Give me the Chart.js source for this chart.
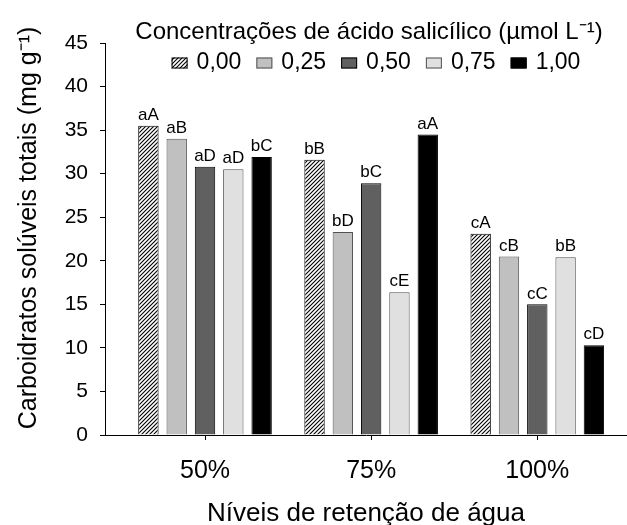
<!DOCTYPE html>
<html>
<head>
<meta charset="utf-8">
<title>Carboidratos solúveis totais</title>
<script src="https://cdn.jsdelivr.net/npm/chart.js@4"></script>
<style>
    html, body { margin: 0; padding: 0; background: #fff; }
</style>
</head>
<body>
<canvas id="chart" width="627" height="525"></canvas>
<script>
// Water retention levels (x categories) and salicylic acid doses (series)
const categories = ['50%', '75%', '100%'];
const concentrations = ['0,00', '0,25', '0,50', '0,75', '1,00'];

// Total soluble carbohydrates (mg g-1), one array per dose
const values000 = [35.5, 31.6, 23.1];
const values025 = [34.0, 23.3, 20.5];
const values050 = [30.8, 28.9, 15.0];
const values075 = [30.5, 16.4, 20.4];
const values100 = [31.9, 34.5, 10.3];

// Mean comparison letters above each bar
const letters000 = ['aA', 'bB', 'cA'];
const letters025 = ['aB', 'bD', 'cB'];
const letters050 = ['aD', 'bC', 'cC'];
const letters075 = ['aD', 'cE', 'bB'];
const letters100 = ['bC', 'aA', 'cD'];

const yTicks = [0, 5, 10, 15, 20, 25, 30, 35, 40, 45];

const FONT = '"Liberation Sans", Arial, sans-serif';
const Y_TITLE = 'Carboidratos solúveis totais (mg g⁻¹)';
const LEGEND_TITLE = 'Concentrações de ácido salicílico (µmol L⁻¹)';

// Diagonal hatch for the 0,00 dose
function makeHatch() {
    const size = 4;
    const c = document.createElement('canvas');
    c.width = size;
    c.height = size;
    const g = c.getContext('2d');
    g.fillStyle = '#fff';
    g.fillRect(0, 0, size, size);
    g.strokeStyle = '#000';
    g.lineWidth = 1.1;
    g.beginPath();
    g.moveTo(0, size); g.lineTo(size, 0);
    g.moveTo(-1, 1); g.lineTo(1, -1);
    g.moveTo(size - 1, size + 1); g.lineTo(size + 1, size - 1);
    g.stroke();
    return g.createPattern(c, 'repeat');
}

const hatch = makeHatch();

function series(label, values, letters, bg, border) {
    return {
        label: label,
        data: values.map((v, i) => ({ x: i + 1, y: v })),
        letters: letters,
        backgroundColor: bg,
        borderColor: border,
        borderWidth: 1,
        categoryPercentage: 0.852,
        barPercentage: 0.72
    };
}

// Letters drawn just above each bar
const barLetters = {
    id: 'barLetters',
    afterDatasetsDraw(chart) {
        const ctx = chart.ctx;
        ctx.save();
        ctx.font = '17px ' + FONT;
        ctx.fillStyle = '#000';
        ctx.textAlign = 'center';
        ctx.textBaseline = 'bottom';
        chart.data.datasets.forEach((ds, i) => {
            chart.getDatasetMeta(i).data.forEach((bar, j) => {
                ctx.fillText(ds.letters[j], bar.x, bar.y - 2);
            });
        });
        ctx.restore();
    }
};

// Rotated y-axis title, centred a little above the plot middle
const yTitle = {
    id: 'yTitle',
    afterDraw(chart) {
        const ctx = chart.ctx;
        ctx.save();
        ctx.translate(29, 228);
        ctx.rotate(-Math.PI / 2);
        ctx.font = '25px ' + FONT;
        ctx.fillStyle = '#000';
        ctx.textAlign = 'center';
        ctx.textBaseline = 'middle';
        ctx.fillText(Y_TITLE, 0, 0);
        ctx.restore();
    }
};

// Legend title and a single row of swatches sitting inside the plot
const legendRow = {
    id: 'legendRow',
    afterDraw(chart) {
        const ctx = chart.ctx;
        ctx.save();
        ctx.fillStyle = '#000';
        ctx.textBaseline = 'middle';
        ctx.textAlign = 'center';
        ctx.font = '24px ' + FONT;
        ctx.fillText(LEGEND_TITLE, 369, 32);

        ctx.font = '23px ' + FONT;
        ctx.textAlign = 'left';
        const boxW = 16, boxH = 11, gap = 9, spacing = 15;
        const items = chart.data.datasets.map(ds => ({
            ds: ds,
            w: boxW + gap + ctx.measureText(ds.label).width
        }));
        const total = items.reduce((s, it) => s + it.w, 0) + spacing * (items.length - 1);
        let x = 376 - total / 2;
        const y = 63;
        items.forEach(it => {
            ctx.fillStyle = it.ds.backgroundColor;
            ctx.fillRect(x, y - boxH / 2, boxW, boxH);
            ctx.strokeStyle = it.ds.borderColor;
            ctx.lineWidth = 1;
            ctx.strokeRect(x + 0.5, y - boxH / 2 + 0.5, boxW - 1, boxH - 1);
            ctx.fillStyle = '#000';
            ctx.fillText(it.ds.label, x + boxW + gap, y);
            x += it.w + spacing;
        });
        ctx.restore();
    }
};

function initChart() {
    const ctx = document.getElementById('chart');

    new Chart(ctx, {
        type: 'bar',
        data: {
            datasets: [
                series(concentrations[0], values000, letters000, hatch, '#000'),
                series(concentrations[1], values025, letters025, '#c0c0c0', '#505050'),
                series(concentrations[2], values050, letters050, '#606060', '#000'),
                series(concentrations[3], values075, letters075, '#e0e0e0', '#505050'),
                series(concentrations[4], values100, letters100, '#000', '#000')
            ]
        },
        options: {
            responsive: false,
            animation: false,
            layout: {
                padding: { top: 43, left: 0, right: 0, bottom: 0 }
            },
            plugins: {
                legend: { display: false },
                tooltip: { enabled: false }
            },
            scales: {
                x: {
                    type: 'linear',
                    min: 0.398,
                    max: 3.54,
                    offset: false,
                    afterBuildTicks: (scale) => {
                        scale.ticks = categories.map((c, i) => ({ value: i + 1 }));
                    },
                    afterFit: (scale) => { scale.height = 90; },
                    ticks: {
                        color: '#000',
                        font: { size: 25 },
                        padding: 16,
                        maxRotation: 0,
                        autoSkip: false,
                        callback: (v) => categories[Math.round(v) - 1]
                    },
                    grid: {
                        offset: false,
                        drawOnChartArea: false,
                        drawTicks: true,
                        tickLength: 5,
                        color: '#000'
                    },
                    border: { color: '#000', width: 1 },
                    title: {
                        display: true,
                        text: 'Níveis de retenção de água',
                        color: '#000',
                        font: { size: 26 },
                        padding: { top: 0, bottom: -4 }
                    }
                },
                y: {
                    min: 0,
                    max: 45,
                    afterBuildTicks: (scale) => {
                        scale.ticks = yTicks.map(v => ({ value: v }));
                    },
                    afterFit: (scale) => { scale.width = 105; },
                    ticks: {
                        color: '#000',
                        font: { size: 21 },
                        padding: 12
                    },
                    grid: {
                        drawOnChartArea: false,
                        drawTicks: true,
                        tickLength: 5,
                        color: '#000'
                    },
                    border: { color: '#000', width: 1 }
                }
            }
        },
        plugins: [barLetters, yTitle, legendRow]
    });
}

document.addEventListener('DOMContentLoaded', initChart);
</script>
</body>
</html>
